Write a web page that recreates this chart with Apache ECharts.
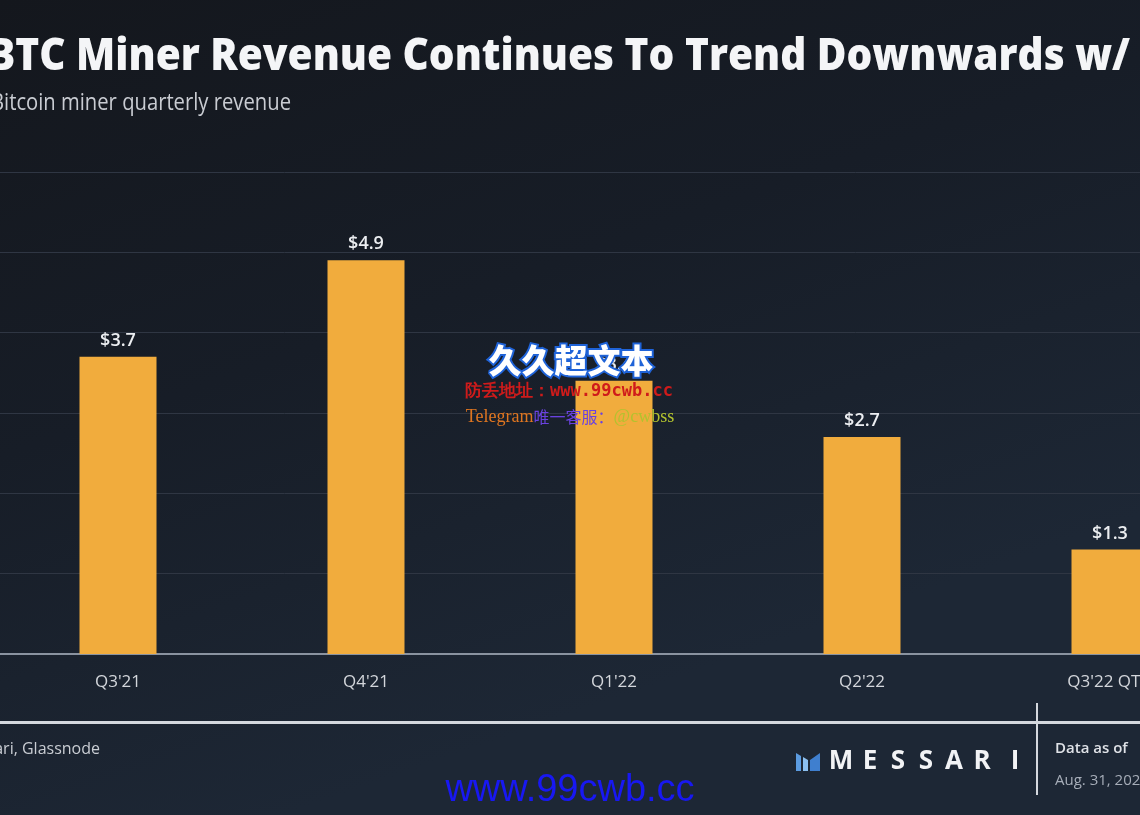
<!DOCTYPE html>
<html>
<head>
<meta charset="utf-8">
<script src="https://cdn.jsdelivr.net/npm/echarts@6.0.0/dist/echarts.min.js"></script>
<style>
html,body{margin:0;padding:0;background:#151920;}
#chart{width:1140px;height:815px;}
</style>
</head>
<body>
<div id="chart"></div>
<script>
// ---- data ----
const categories = ["Q3'21", "Q4'21", "Q1'22", "Q2'22", "Q3'22 QTD"];
const revenue = [3.7, 4.9, 3.4, 2.7, 1.3]; // USD billions
const yMin = 0, yMax = 6, yStep = 1;

const titleText = "BTC Miner Revenue Continues To Trend Downwards w/";
const subtitleText = "Bitcoin miner quarterly revenue";
const sourceText = "Source: Messari, Glassnode";
const brandLetters = ["M", "E", "S", "S", "A", "R", "I"];
const dateLabel = "Data as of";
const dateText = "Aug. 31, 2022";

// ---- helpers (layout only) ----
const mctx = document.createElement('canvas').getContext('2d');
function measure(text, font) { mctx.font = font; return mctx.measureText(text).width; }

const titleFont = '800 44px "Open Sans"';
const titleScale = 1142 / measure(titleText, titleFont);
const subFont = '400 23px "Open Sans"';
const subScale = 300 / measure(subtitleText, subFont);

const chart = echarts.init(document.getElementById('chart'), null, {renderer: 'canvas'});

const brandX = [841, 870, 898, 926, 954, 982, 1015];

const graphics = [
  {type: 'text', x: 1130, y: 57, scaleX: titleScale, z: 10,
   style: {text: titleText, font: titleFont, fill: '#f4f5f7', align: 'right', verticalAlign: 'middle'}},
  {type: 'text', x: 291, y: 103, scaleX: subScale, z: 10,
   style: {text: subtitleText, font: subFont, fill: '#c9ccd2', align: 'right', verticalAlign: 'middle'}},
  // footer separator
  {type: 'rect', shape: {x: 0, y: 721, width: 1140, height: 3}, style: {fill: '#d4d8de'}, z: 10},
  {type: 'rect', shape: {x: 1036, y: 703, width: 2, height: 92}, style: {fill: '#d4d8de'}, z: 10},
  {type: 'text', x: 100, y: 749, z: 10,
   style: {text: sourceText, font: '400 16px "Open Sans"', fill: '#c9cdd3', align: 'right', verticalAlign: 'middle'}},
  {type: 'text', x: 1055, y: 749, z: 10,
   style: {text: dateLabel, font: '600 15px "Open Sans"', fill: '#dfe2e7', align: 'left', verticalAlign: 'middle'}},
  {type: 'text', x: 1055, y: 781, z: 10,
   style: {text: dateText, font: '400 15px "Open Sans"', fill: '#a6adb8', align: 'left', verticalAlign: 'middle'}},
  // logo icon
  {type: 'polygon', shape: {points: [[796, 753], [801, 756], [801, 771], [796, 771]]}, style: {fill: '#5b9be0'}, z: 10},
  {type: 'polygon', shape: {points: [[803, 757], [808, 760], [808, 771], [803, 771]]}, style: {fill: '#8cc0f0'}, z: 10},
  {type: 'polygon', shape: {points: [[810, 760], [820, 753], [820, 771], [810, 771]]}, style: {fill: '#3f7fcf'}, z: 10},
  // watermark
  {type: 'text', x: 571, y: 360, z: 100,
   style: {text: '久久超文本', font: '900 33px "Noto Sans CJK SC"', fill: '#ffffff', stroke: '#1f63d8', lineWidth: 4,
           align: 'center', verticalAlign: 'middle'}},
  {type: 'text', x: 569, y: 392, z: 100,
   style: {text: '防丢地址：www.99cwb.cc', font: '700 17px "DejaVu Sans Mono"', fill: '#cf1b1b',
           align: 'center', verticalAlign: 'middle'}},
  {type: 'text', x: 570, y: 417, z: 100,
   style: {text: '{a|Telegram}{b|唯一客服：}{c|@cwbss}', align: 'center', verticalAlign: 'middle',
           rich: {
             a: {font: '400 18px "Liberation Serif"', fill: '#e07620'},
             b: {font: '400 16px "Noto Sans CJK SC"', fill: '#6a42e0'},
             c: {font: '400 18px "Liberation Serif"', fill: '#b2c22e'}
           }}},
  {type: 'text', x: 570, y: 791, z: 100,
   style: {text: 'www.99cwb.cc', font: '400 38px "Liberation Sans"', fill: '#1818f2',
           align: 'center', verticalAlign: 'middle'}}
];
brandLetters.forEach((ch, i) => {
  graphics.push({type: 'text', x: brandX[i], y: 762, z: 10,
    style: {text: ch, font: '700 26px "Open Sans"', fill: '#f2f3f5', align: 'center', verticalAlign: 'middle'}});
});

const option = {
  animation: false,
  backgroundColor: {
    type: 'linear', x: 0, y: 0, x2: 0.25, y2: 1,
    colorStops: [
      {offset: 0, color: '#14171d'},
      {offset: 0.5, color: '#171d27'},
      {offset: 1, color: '#1d2735'}
    ]
  },
  grid: {left: -6, right: -94, top: 172, bottom: 161, containLabel: false, outerBoundsMode: 'none'},
  xAxis: {
    type: 'category',
    data: categories,
    axisLine: {show: true, lineStyle: {color: '#8a93a0', width: 2}},
    axisTick: {show: false},
    axisLabel: {color: '#d3d6db', fontFamily: 'Open Sans', fontSize: 17, margin: 20}
  },
  yAxis: {
    type: 'value',
    min: yMin, max: yMax, interval: yStep,
    axisLine: {show: false},
    axisTick: {show: false},
    axisLabel: {show: false},
    splitLine: {lineStyle: {color: '#2f3643', width: 1}}
  },
  series: [{
    type: 'bar',
    data: revenue,
    barWidth: 77,
    itemStyle: {color: '#f1ac3d'},
    label: {
      show: true, position: 'top', distance: 7,
      color: '#eceef1', fontFamily: 'Open Sans', fontSize: 18, fontWeight: 600,
      formatter: p => '$' + p.value.toFixed(1)
    }
  }],
  graphic: graphics
};
chart.setOption(option);
</script>
</body>
</html>
